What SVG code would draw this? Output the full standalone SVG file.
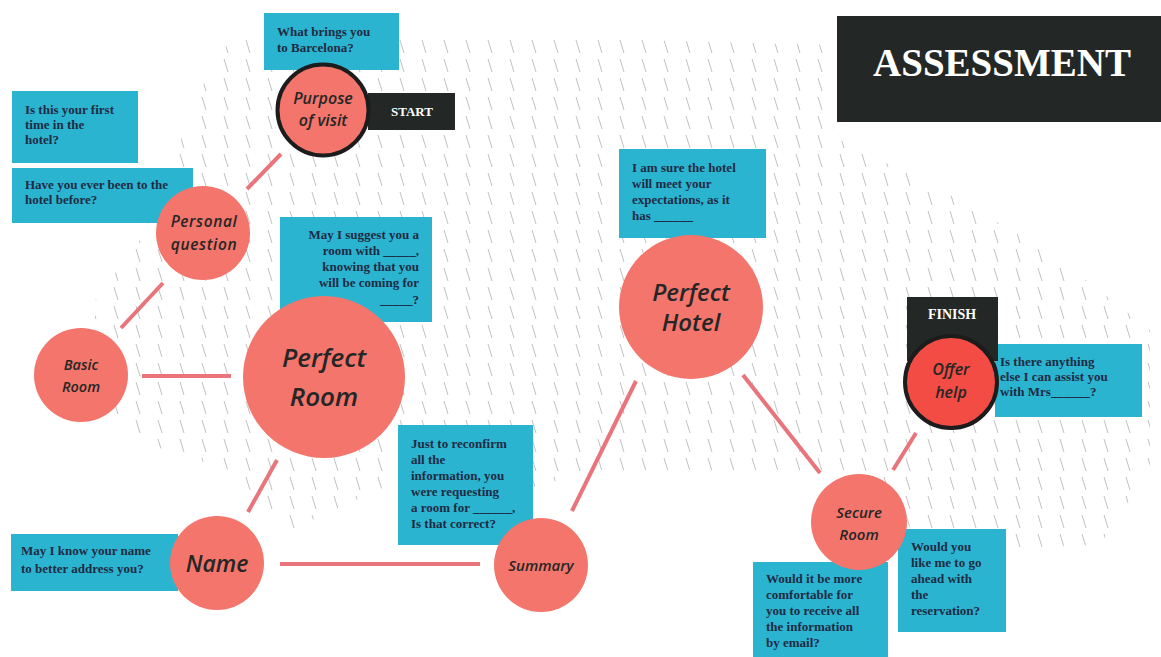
<svg xmlns="http://www.w3.org/2000/svg" width="1161" height="657" viewBox="0 0 1161 657">
<style>
.box{fill:#2bb4cf}
.dark{fill:#232826}
.c{fill:#f3756b}
.bt{font-family:"Liberation Serif",serif;font-weight:bold;font-size:13px;fill:#1e2b45}
.ct{font-family:"Open Sans",sans-serif;font-style:italic;font-weight:600;fill:#262626;text-anchor:middle}
.wt{font-family:"Liberation Serif",serif;font-weight:bold;fill:#ffffff;text-anchor:middle}
.edge{stroke:#e9747b;stroke-width:4;stroke-linecap:butt;fill:none}
</style>
<defs>
<pattern id="hatch" width="22" height="19" patternUnits="userSpaceOnUse">
<line x1="4" y1="2" x2="8" y2="15" stroke="#8c8c8c" stroke-width="1"/>
</pattern>
<clipPath id="hz">
<polygon points="95,300 140,240 205,80 230,40 450,35 830,45 840,140 960,200 1060,260 1150,330 1150,470 1100,545 930,550 860,470 760,470 600,470 520,490 400,480 290,530 230,470 150,445 95,400"/>
</clipPath>
</defs>
<rect width="1161" height="657" fill="#ffffff"/>
<rect width="1161" height="657" fill="url(#hatch)" clip-path="url(#hz)" opacity="0.55"/>

<g id="title">
<rect class="dark" x="837" y="16" width="324" height="106"/>
<text class="wt" x="1002" y="76" font-size="39">ASSESSMENT</text>
</g>

<g id="connectors">
<line class="edge" x1="281" y1="154" x2="247" y2="189"/>
<line class="edge" x1="163" y1="283" x2="121" y2="328"/>
<line class="edge" x1="142" y1="376" x2="231" y2="376"/>
<line class="edge" x1="277" y1="460" x2="248" y2="512"/>
<line class="edge" x1="280" y1="564" x2="480" y2="564"/>
<line class="edge" x1="572" y1="511" x2="636" y2="381"/>
<line class="edge" x1="743" y1="375" x2="820" y2="473"/>
<line class="edge" x1="893" y1="470" x2="916" y2="433"/>
</g>

<g id="purpose">
<rect class="box" x="264" y="13" width="135" height="57"/>
<text class="bt" x="277" y="36">What brings you</text>
<text class="bt" x="277" y="52">to Barcelona?</text>
<rect class="dark" x="368" y="93" width="87" height="37"/>
<text class="wt" x="412" y="116" font-size="13">START</text>
<circle class="c" cx="323" cy="110" r="45.5" stroke="#1c1c1c" stroke-width="4"/>
<text class="ct" x="323" y="104" font-size="16">Purpose</text>
<text class="ct" x="323" y="126" font-size="16">of visit</text>
</g>

<g id="personal">
<rect class="box" x="12" y="91" width="126" height="72"/>
<text class="bt" x="25" y="114">Is this your first</text>
<text class="bt" x="25" y="129">time in the</text>
<text class="bt" x="25" y="144">hotel?</text>
<rect class="box" x="12" y="168" width="181" height="55"/>
<text class="bt" x="25" y="189">Have you ever been to the</text>
<text class="bt" x="25" y="204">hotel before?</text>
<circle class="c" cx="203" cy="233" r="47"/>
<text class="ct" x="204" y="227" font-size="15.5" letter-spacing="0.6">Personal</text>
<text class="ct" x="204" y="250" font-size="15.5" letter-spacing="0.6">question</text>
</g>

<g id="basic">
<circle class="c" cx="81" cy="375" r="47"/>
<text class="ct" x="81" y="370" font-size="14.5">Basic</text>
<text class="ct" x="81" y="392" font-size="14.5">Room</text>
</g>

<g id="perfect-room">
<rect class="box" x="280" y="217" width="152" height="105"/>
<g class="bt" text-anchor="end">
<text x="419" y="239">May I suggest you a</text>
<text x="419" y="255">room with _____,</text>
<text x="419" y="271">knowing that you</text>
<text x="419" y="287">will be coming for</text>
<text x="419" y="304">_____?</text>
</g>
<circle class="c" cx="324" cy="377" r="81"/>
<text class="ct" x="324" y="367" font-size="26">Perfect</text>
<text class="ct" x="324" y="406" font-size="26">Room</text>
</g>

<g id="name">
<rect class="box" x="11" y="534" width="167" height="57"/>
<text class="bt" x="21" y="555">May I know your name</text>
<text class="bt" x="21" y="573">to better address you?</text>
<circle class="c" cx="217" cy="563" r="47"/>
<text class="ct" x="217" y="572" font-size="23">Name</text>
</g>

<g id="summary">
<rect class="box" x="398" y="425" width="135" height="120"/>
<text class="bt" x="411" y="448">Just to reconfirm</text>
<text class="bt" x="411" y="464">all the</text>
<text class="bt" x="411" y="480">information, you</text>
<text class="bt" x="411" y="496">were requesting</text>
<text class="bt" x="411" y="512">a room for ______,</text>
<text class="bt" x="411" y="528">Is that correct?</text>
<circle class="c" cx="541" cy="565" r="47"/>
<text class="ct" x="541" y="571" font-size="15">Summary</text>
</g>

<g id="perfect-hotel">
<rect class="box" x="619" y="149" width="147" height="89"/>
<text class="bt" x="632" y="172">I am sure the hotel</text>
<text class="bt" x="632" y="188">will meet your</text>
<text class="bt" x="632" y="204">expectations, as it</text>
<text class="bt" x="632" y="220">has ______</text>
<circle class="c" cx="691" cy="307" r="72"/>
<text class="ct" x="691" y="301" font-size="24">Perfect</text>
<text class="ct" x="691" y="331" font-size="24">Hotel</text>
</g>

<g id="secure">
<rect class="box" x="753" y="562" width="135" height="95"/>
<text class="bt" x="766" y="583">Would it be more</text>
<text class="bt" x="766" y="599">comfortable for</text>
<text class="bt" x="766" y="615">you to receive all</text>
<text class="bt" x="766" y="631">the information</text>
<text class="bt" x="766" y="647">by email?</text>
<rect class="box" x="898" y="529" width="108" height="103"/>
<text class="bt" x="911" y="551">Would you</text>
<text class="bt" x="911" y="567">like me to go</text>
<text class="bt" x="911" y="583">ahead with</text>
<text class="bt" x="911" y="599">the</text>
<text class="bt" x="911" y="615">reservation?</text>
<circle class="c" cx="859" cy="522" r="48"/>
<text class="ct" x="859" y="518" font-size="15">Secure</text>
<text class="ct" x="859" y="540" font-size="15">Room</text>
</g>

<g id="offer">
<rect class="box" x="995" y="344" width="147" height="73"/>
<text class="bt" x="1000" y="366">Is there anything</text>
<text class="bt" x="1000" y="381">else I can assist you</text>
<text class="bt" x="1000" y="396">with Mrs______?</text>
<rect class="dark" x="907" y="297" width="91" height="64"/>
<text class="wt" x="952" y="319" font-size="14">FINISH</text>
<circle cx="951" cy="382" r="46" fill="#f24c44" stroke="#1c1c1c" stroke-width="4"/>
<text class="ct" x="951" y="375" font-size="16">Offer</text>
<text class="ct" x="951" y="398" font-size="16">help</text>
</g>
</svg>
